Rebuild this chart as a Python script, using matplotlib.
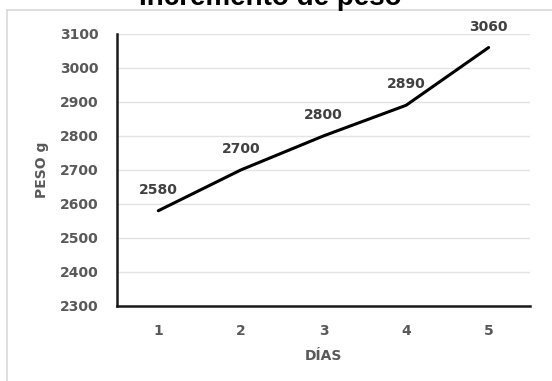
import matplotlib
matplotlib.use("Agg")
import matplotlib.pyplot as plt
from matplotlib.lines import Line2D

dias = [1, 2, 3, 4, 5]
peso = [2580, 2700, 2800, 2890, 3060]
y_ticks = [2300, 2400, 2500, 2600, 2700, 2800, 2900, 3000, 3100]

plt.rcParams['font.family'] = 'DejaVu Sans'
plt.rcParams['font.weight'] = 'bold'

fig = plt.figure(figsize=(5.52, 3.81), dpi=100)
ax = fig.add_axes([0.212, 0.197, 0.748, 0.714])

# light frame around the chart area
fig.add_artist(Line2D([7/552, 1], [1 - 10/381, 1 - 10/381], transform=fig.transFigure,
                      color='#d9d9d9', lw=1.2))
fig.add_artist(Line2D([7/552, 7/552], [0, 1 - 10/381], transform=fig.transFigure,
                      color='#d9d9d9', lw=1.2))

ax.plot(dias, peso, color='black', lw=2.2, solid_capstyle='round')
for x, y in zip(dias, peso):
    ax.annotate(str(y), (x, y), xytext=(0, 15), textcoords='offset points',
                ha='center', va='center', fontsize=10, fontweight='bold', color='#404040')

ax.set_xlim(0.5, 5.5)
ax.set_ylim(2300, 3100)
ax.set_yticks(y_ticks)
ax.set_xticks(dias)
ax.grid(axis='y', color='#e3e3e3', lw=1)
ax.set_axisbelow(True)
ax.tick_params(length=0, labelsize=10, labelcolor='#595959')
ax.tick_params(axis='y', pad=13)
ax.tick_params(axis='x', pad=13)
for s in ['top', 'right']:
    ax.spines[s].set_visible(False)
for s in ['left', 'bottom']:
    ax.spines[s].set_color('#1a1a1a')
    ax.spines[s].set_linewidth(1.8)

ax.set_xlabel('DÍAS', fontsize=10, fontweight='bold', color='#595959', labelpad=8)
ax.set_ylabel('PESO g', fontsize=10, fontweight='bold', color='#595959', labelpad=8)

fig.text(270/552, 1 - 5/381, 'Incremento de peso', ha='center', va='baseline',
         fontsize=20, fontweight='bold', color='black', family='Liberation Sans')

fig.savefig('out.png', dpi=100)
